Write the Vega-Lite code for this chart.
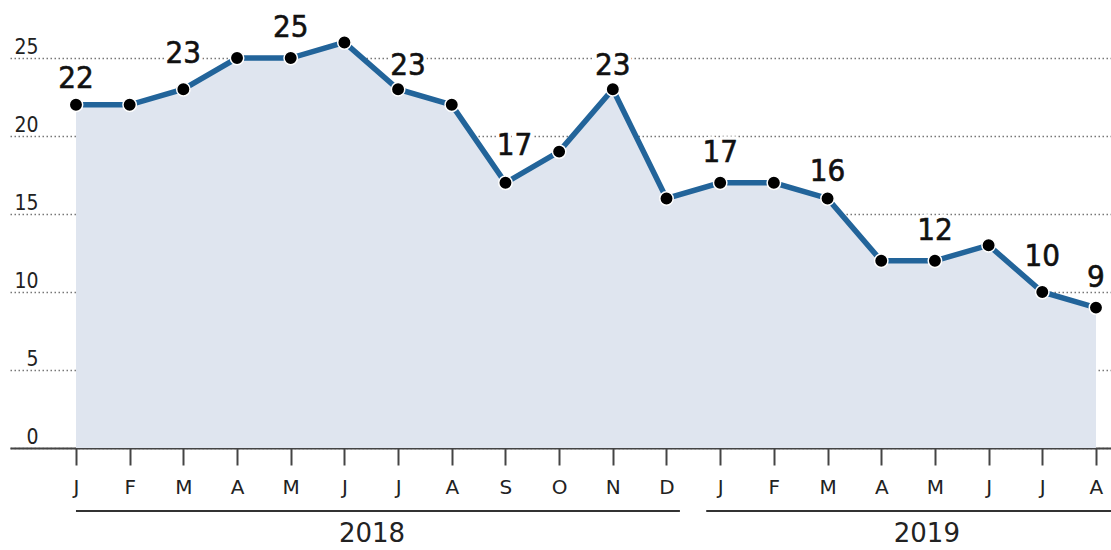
{
  "$schema": "https://vega.github.io/schema/vega-lite/v6.json",
  "width": 1101,
  "height": 448,
  "autosize": {"type": "none"},
  "padding": {"left": 10, "top": 0, "right": 0, "bottom": 102},
  "background": "white",
  "config": {"view": {"stroke": null}},
  "datasets": {
    "main": [
      {"i": 0, "m": "J", "v": 22, "lab": true},
      {"i": 1, "m": "F", "v": 22, "lab": false},
      {"i": 2, "m": "M", "v": 23, "lab": true},
      {"i": 3, "m": "A", "v": 25, "lab": false},
      {"i": 4, "m": "M", "v": 25, "lab": true},
      {"i": 5, "m": "J", "v": 26, "lab": false},
      {"i": 6, "m": "J", "v": 23, "lab": true},
      {"i": 7, "m": "A", "v": 22, "lab": false},
      {"i": 8, "m": "S", "v": 17, "lab": true},
      {"i": 9, "m": "O", "v": 19, "lab": false},
      {"i": 10, "m": "N", "v": 23, "lab": true},
      {"i": 11, "m": "D", "v": 16, "lab": false},
      {"i": 12, "m": "J", "v": 17, "lab": true},
      {"i": 13, "m": "F", "v": 17, "lab": false},
      {"i": 14, "m": "M", "v": 16, "lab": true},
      {"i": 15, "m": "A", "v": 12, "lab": false},
      {"i": 16, "m": "M", "v": 12, "lab": true},
      {"i": 17, "m": "J", "v": 13, "lab": false},
      {"i": 18, "m": "J", "v": 10, "lab": true},
      {"i": 19, "m": "A", "v": 9, "lab": true}
    ],
    "years": [
      {"year": "2018", "x1": 0, "x2": 11.25, "xl": 5.515, "yl": -4.04, "yt": -6.05},
      {"year": "2019", "x1": 11.74, "x2": 19.28, "xl": 15.85, "yl": -4.04, "yt": -6.05}
    ]
  },
  "layer": [
    {
      "data": {"name": "main"},
      "mark": {"type": "area", "color": "#dfe5ef", "opacity": 1},
      "encoding": {
        "x": {
          "field": "i", "type": "quantitative",
          "scale": {"domain": [-1.229, 19.28], "nice": false, "zero": false},
          "axis": {
            "values": [0,1,2,3,4,5,6,7,8,9,10,11,12,13,14,15,16,17,18,19],
            "labelExpr": "['J','F','M','A','M','J','J','A','S','O','N','D','J','F','M','A','M','J','J','A'][datum.value]",
            "title": null, "grid": false,
            "domain": true, "domainColor": "#444", "domainWidth": 2,
            "ticks": true, "tickSize": 17, "tickColor": "#444", "tickWidth": 2,
            "labelFont": "DejaVu Sans", "labelFontSize": 20, "labelColor": "#222",
            "labelBaseline": "alphabetic", "labelPadding": 28, "labelFlush": false,
            "labelOverlap": false
          }
        },
        "y": {
          "field": "v", "type": "quantitative",
          "scale": {"domain": [0, 28.72], "nice": false, "zero": true},
          "axis": {
            "values": [0, 5, 10, 15, 20, 25],
            "title": null, "domain": false, "ticks": false,
            "grid": true, "gridColor": "#777", "gridDash": [1.5, 2.5], "gridWidth": 1.5,
            "labelFont": "DejaVu Sans Condensed", "labelFontSize": 21, "labelColor": "#222",
            "labelAlign": "right", "labelBaseline": "alphabetic", "labelPadding": -28,
            "labelOffset": -5
          }
        }
      }
    },
    {
      "data": {"name": "main"},
      "mark": {"type": "line", "color": "#22649a", "strokeWidth": 5.5},
      "encoding": {
        "x": {"field": "i", "type": "quantitative"},
        "y": {"field": "v", "type": "quantitative"}
      }
    },
    {
      "data": {"name": "main"},
      "mark": {"type": "point", "filled": true, "color": "black", "size": 180, "stroke": "white", "strokeWidth": 1.5, "opacity": 1},
      "encoding": {
        "x": {"field": "i", "type": "quantitative"},
        "y": {"field": "v", "type": "quantitative"}
      }
    },
    {
      "data": {"name": "main"},
      "transform": [{"filter": "indexof([0,14], datum.i) >= 0"}],
      "encoding": {
        "x": {"field": "i", "type": "quantitative"},
        "y": {"field": "v", "type": "quantitative"},
        "text": {"field": "v", "type": "quantitative"}
      },
      "layer": [
        {"mark": {"type": "text", "font": "DejaVu Sans Condensed", "fontSize": 31, "baseline": "alphabetic", "dy": -17, "color": "white", "stroke": "white", "strokeWidth": 7, "strokeJoin": "round"}},
        {"mark": {"type": "text", "font": "DejaVu Sans Condensed", "fontSize": 31, "baseline": "alphabetic", "dy": -17, "color": "#111", "stroke": "#111", "strokeWidth": 0.6}}
      ]
    },
    {
      "data": {"name": "main"},
      "transform": [{"filter": "indexof([4,12,16,19], datum.i) >= 0"}],
      "encoding": {
        "x": {"field": "i", "type": "quantitative"},
        "y": {"field": "v", "type": "quantitative"},
        "text": {"field": "v", "type": "quantitative"}
      },
      "layer": [
        {"mark": {"type": "text", "font": "DejaVu Sans Condensed", "fontSize": 31, "baseline": "alphabetic", "dy": -21, "color": "white", "stroke": "white", "strokeWidth": 7, "strokeJoin": "round"}},
        {"mark": {"type": "text", "font": "DejaVu Sans Condensed", "fontSize": 31, "baseline": "alphabetic", "dy": -21, "color": "#111", "stroke": "#111", "strokeWidth": 0.6}}
      ]
    },
    {
      "data": {"name": "main"},
      "transform": [{"filter": "indexof([2,18], datum.i) >= 0"}],
      "encoding": {
        "x": {"field": "i", "type": "quantitative"},
        "y": {"field": "v", "type": "quantitative"},
        "text": {"field": "v", "type": "quantitative"}
      },
      "layer": [
        {"mark": {"type": "text", "font": "DejaVu Sans Condensed", "fontSize": 31, "baseline": "alphabetic", "dy": -26, "color": "white", "stroke": "white", "strokeWidth": 7, "strokeJoin": "round"}},
        {"mark": {"type": "text", "font": "DejaVu Sans Condensed", "fontSize": 31, "baseline": "alphabetic", "dy": -26, "color": "#111", "stroke": "#111", "strokeWidth": 0.6}}
      ]
    },
    {
      "data": {"name": "main"},
      "transform": [{"filter": "datum.i == 8"}],
      "encoding": {
        "x": {"field": "i", "type": "quantitative"},
        "y": {"field": "v", "type": "quantitative"},
        "text": {"field": "v", "type": "quantitative"}
      },
      "layer": [
        {"mark": {"type": "text", "font": "DejaVu Sans Condensed", "fontSize": 31, "baseline": "alphabetic", "dy": -28, "dx": 9, "color": "white", "stroke": "white", "strokeWidth": 7, "strokeJoin": "round"}},
        {"mark": {"type": "text", "font": "DejaVu Sans Condensed", "fontSize": 31, "baseline": "alphabetic", "dy": -28, "dx": 9, "color": "#111", "stroke": "#111", "strokeWidth": 0.6}}
      ]
    },
    {
      "data": {"name": "main"},
      "transform": [{"filter": "datum.i == 10"}],
      "encoding": {
        "x": {"field": "i", "type": "quantitative"},
        "y": {"field": "v", "type": "quantitative"},
        "text": {"field": "v", "type": "quantitative"}
      },
      "layer": [
        {"mark": {"type": "text", "font": "DejaVu Sans Condensed", "fontSize": 31, "baseline": "alphabetic", "dy": -14, "color": "white", "stroke": "white", "strokeWidth": 7, "strokeJoin": "round"}},
        {"mark": {"type": "text", "font": "DejaVu Sans Condensed", "fontSize": 31, "baseline": "alphabetic", "dy": -14, "color": "#111", "stroke": "#111", "strokeWidth": 0.6}}
      ]
    },
    {
      "data": {"name": "main"},
      "transform": [{"filter": "datum.i == 6"}],
      "encoding": {
        "x": {"field": "i", "type": "quantitative"},
        "y": {"field": "v", "type": "quantitative"},
        "text": {"field": "v", "type": "quantitative"}
      },
      "layer": [
        {"mark": {"type": "text", "font": "DejaVu Sans Condensed", "fontSize": 31, "baseline": "alphabetic", "dy": -14, "dx": 10, "color": "white", "stroke": "white", "strokeWidth": 7, "strokeJoin": "round"}},
        {"mark": {"type": "text", "font": "DejaVu Sans Condensed", "fontSize": 31, "baseline": "alphabetic", "dy": -14, "dx": 10, "color": "#111", "stroke": "#111", "strokeWidth": 0.6}}
      ]
    },
    {
      "data": {"name": "years"},
      "mark": {"type": "rule", "color": "#333", "strokeWidth": 2},
      "encoding": {
        "x": {"field": "x1", "type": "quantitative"},
        "x2": {"field": "x2"},
        "y": {"field": "yl", "type": "quantitative"}
      }
    },
    {
      "data": {"name": "years"},
      "mark": {"type": "text", "font": "DejaVu Sans", "fontSize": 26, "baseline": "alphabetic", "align": "center", "color": "#222"},
      "encoding": {
        "x": {"field": "xl", "type": "quantitative"},
        "y": {"field": "yt", "type": "quantitative"},
        "text": {"field": "year", "type": "nominal"}
      }
    }
  ]
}
